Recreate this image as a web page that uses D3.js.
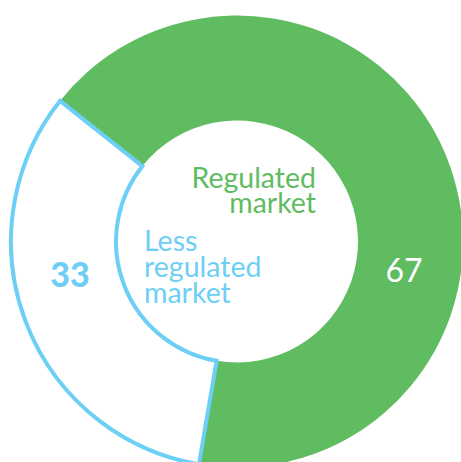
<!DOCTYPE html>
<html>
<head>
<meta charset="utf-8">
<script src="https://cdn.jsdelivr.net/npm/d3@7"></script>
<style>
  html, body { margin: 0; padding: 0; background: #fff; }
  svg { display: block; }
</style>
</head>
<body>
<svg id="chart" width="461" height="462"></svg>
<script>
// Market shares (percent)
const categories = ["Regulated market", "Less regulated market"];
const values = [67, 33];
const valueLabels = ["67", "33"];

const GREEN = "#5fbc61";
const BLUE = "#6dcff6";

const svg = d3.select("#chart");
const cx = 237, cy = 241.5;
const innerR = 121, outerR = 226;

const g = svg.append("g").attr("transform", `translate(${cx},${cy})`);

const startA = -51.5 * Math.PI / 180;
const pie = d3.pie().sort(null).value(d => d)
  .startAngle(startA).endAngle(startA + 2 * Math.PI);
const arcs = pie(values);

const arc = d3.arc().innerRadius(innerR).outerRadius(outerR);

// Regulated slice: solid fill
g.append("path")
  .attr("d", arc(arcs[0]))
  .attr("fill", GREEN);

// Less regulated slice: outline only
g.append("path")
  .attr("d", arc(arcs[1]))
  .attr("fill", "#fff")
  .attr("stroke", BLUE)
  .attr("stroke-width", 4)
  .attr("stroke-linejoin", "miter");

const font = "Lato, 'Open Sans', sans-serif";

// Category labels inside the hole
const regLines = ["Regulated", "market"];
svg.append("text")
  .attr("font-family", font)
  .attr("font-size", 28.5)
  .attr("fill", GREEN)
  .attr("text-anchor", "end")
  .selectAll("tspan").data(regLines).join("tspan")
  .attr("x", 316)
  .attr("y", (d, i) => 188 + i * 24.5)
  .text(d => d);

const lessLines = ["Less", "regulated", "market"];
svg.append("text")
  .attr("font-family", font)
  .attr("font-size", 28.5)
  .attr("fill", BLUE)
  .attr("text-anchor", "start")
  .selectAll("tspan").data(lessLines).join("tspan")
  .attr("x", 144)
  .attr("y", (d, i) => 251 + i * 26)
  .text(d => d);

// Value labels on the ring
svg.append("text")
  .attr("font-family", font)
  .attr("font-size", 34)
  .attr("font-weight", 900)
  .attr("fill", BLUE)
  .attr("text-anchor", "middle")
  .attr("x", 70)
  .attr("y", 287)
  .text(valueLabels[1]);

svg.append("text")
  .attr("font-family", font)
  .attr("font-size", 32)
  .attr("fill", "#fff")
  .attr("text-anchor", "middle")
  .attr("x", 404)
  .attr("y", 282)
  .text(valueLabels[0]);
</script>
</body>
</html>
